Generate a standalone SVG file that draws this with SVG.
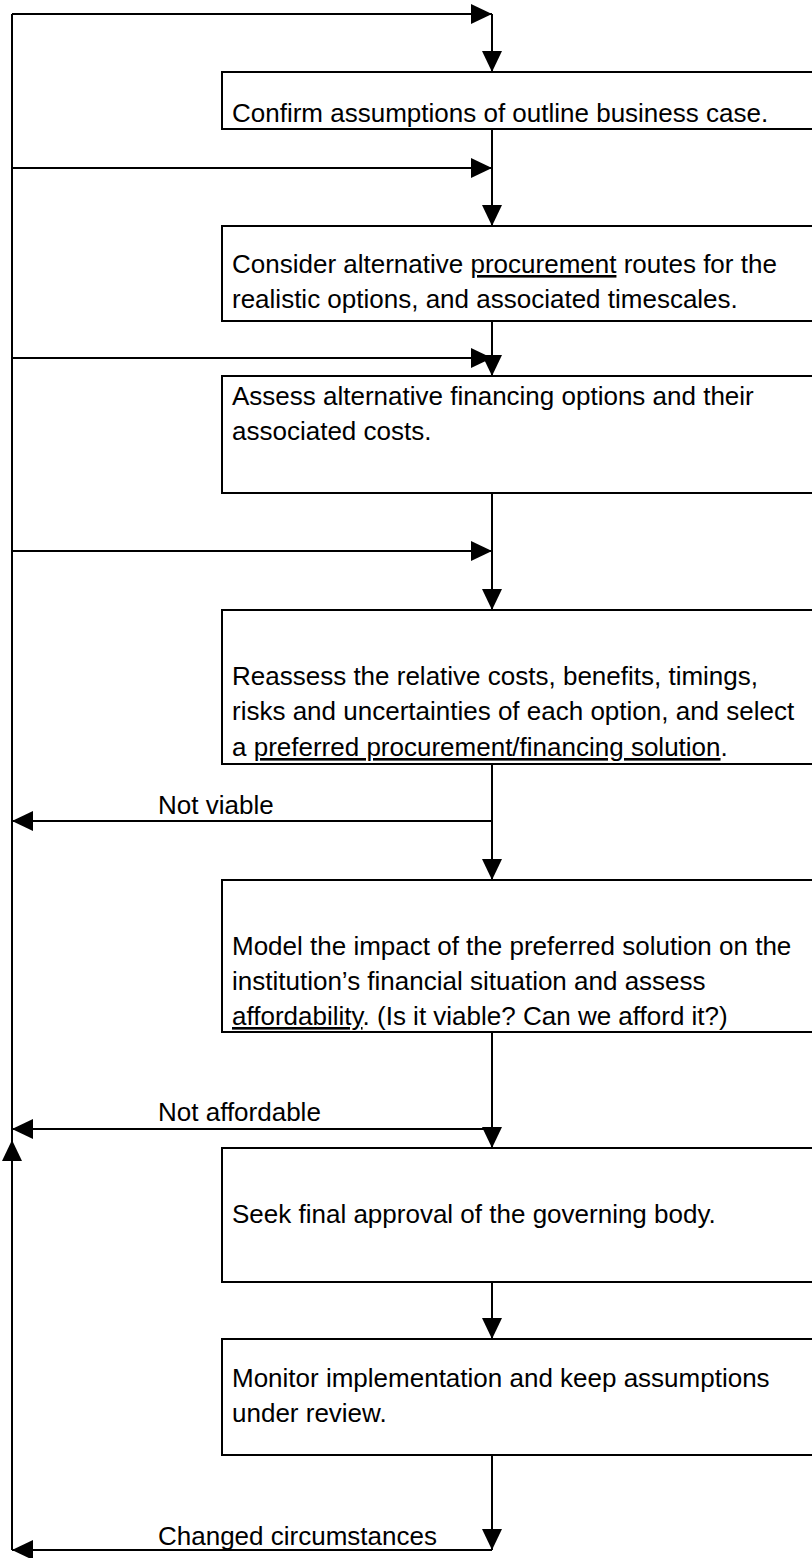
<svg xmlns="http://www.w3.org/2000/svg" width="812" height="1558" viewBox="0 0 812 1558">
<style>
.box{fill:#fff;stroke:#000;stroke-width:2}
.ln{fill:none;stroke:#000;stroke-width:2;marker-end:url(#ah)}
.pl{fill:none;stroke:#000;stroke-width:2}
text{font-family:"Liberation Sans",Arial,sans-serif;font-size:26px;fill:#000}
.u{text-decoration:underline}
</style>
<defs>
<marker id="ah" markerUnits="userSpaceOnUse" markerWidth="21" markerHeight="20" refX="21" refY="10" orient="auto" viewBox="0 0 21 20">
<path d="M0,0 L21,10 L0,20 z" fill="#000"/>
</marker>
</defs>
<rect width="812" height="1558" fill="#fff"/>
<g id="connectors">
<path class="pl" d="M12,1140 L12,14"/>
<path class="ln" d="M12,14 L492,14"/>
<path class="ln" d="M492,14 L492,72"/>
<path class="ln" d="M12,168 L492,168"/>
<path class="ln" d="M492,129 L492,226"/>
<path class="ln" d="M12,358 L492,358"/>
<path class="ln" d="M492,321 L492,376"/>
<path class="ln" d="M12,551 L492,551"/>
<path class="ln" d="M492,493 L492,610"/>
<path class="ln" d="M492,821 L12,821"/>
<path class="ln" d="M492,764 L492,880"/>
<path class="ln" d="M492,1129 L12,1129"/>
<path class="ln" d="M492,1032 L492,1148"/>
<path class="ln" d="M492,1282 L492,1339"/>
<path class="ln" d="M492,1455 L492,1550"/>
<path class="ln" d="M492,1550 L12,1550"/>
<path class="ln" d="M12,1550 L12,1140"/>
<text x="158" y="814">Not viable</text>
<text x="158" y="1121">Not affordable</text>
<text x="158" y="1545">Changed circumstances</text>
</g>
<g id="n1"><rect class="box" x="222" y="72" width="600" height="57"/>
<text x="232" y="122">Confirm assumptions of outline business case.</text></g>
<g id="n2"><rect class="box" x="222" y="226" width="600" height="95"/>
<text x="232" y="273">Consider alternative <tspan class="u">procurement</tspan> routes for the</text>
<text x="232" y="308">realistic options, and associated timescales.</text></g>
<g id="n3"><rect class="box" x="222" y="376" width="600" height="117"/>
<text x="232" y="405">Assess alternative financing options and their</text>
<text x="232" y="440">associated costs.</text></g>
<g id="n4"><rect class="box" x="222" y="610" width="600" height="154"/>
<text x="232" y="685">Reassess the relative costs, benefits, timings,</text>
<text x="232" y="720">risks and uncertainties of each option, and select</text>
<text x="232" y="756">a <tspan class="u">preferred procurement/financing solution</tspan>.</text></g>
<g id="n5"><rect class="box" x="222" y="880" width="600" height="152"/>
<text x="232" y="955">Model the impact of the preferred solution on the</text>
<text x="232" y="990">institution’s financial situation and assess</text>
<text x="232" y="1025"><tspan class="u">affordability</tspan>. (Is it viable? Can we afford it?)</text></g>
<g id="n6"><rect class="box" x="222" y="1148" width="600" height="134"/>
<text x="232" y="1223">Seek final approval of the governing body.</text></g>
<g id="n7"><rect class="box" x="222" y="1339" width="600" height="116"/>
<text x="232" y="1387">Monitor implementation and keep assumptions</text>
<text x="232" y="1422">under review.</text></g>
</svg>
